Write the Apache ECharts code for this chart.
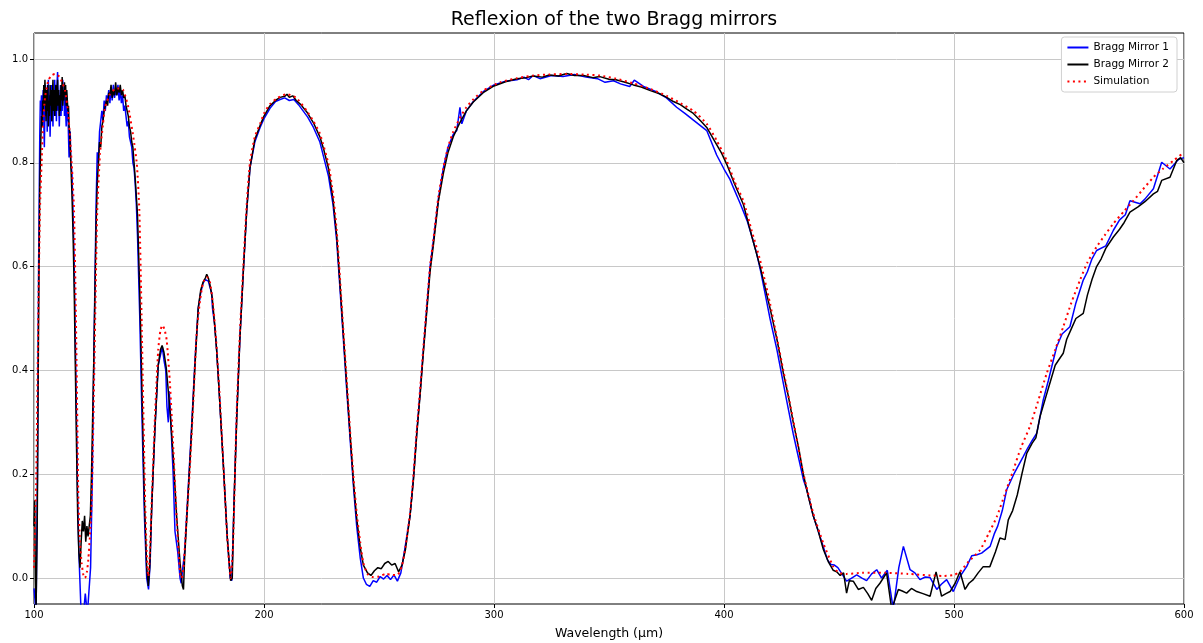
<!DOCTYPE html>
<html>
<head>
<meta charset="utf-8">
<script src="https://cdn.jsdelivr.net/npm/echarts@6/dist/echarts.min.js"></script>
<style>
html,body{margin:0;padding:0;background:#fff;}
#chart{width:1203px;height:643px;}
</style>
</head>
<body>
<div id="chart"></div>
<script>
// ---- data ----
const chartTitle = 'Reflexion of the two Bragg mirrors';
const xAxisName = 'Wavelength (µm)';
const seriesNames = ['Bragg Mirror 1', 'Bragg Mirror 2', 'Simulation'];
const yTickValues = [0.0, 0.2, 0.4, 0.6, 0.8, 1.0];

const mirror1 = [[100,-0.02],[100.4,-0.04],[100.9,-0.07],[101.5,0.2],[102,0.6],
[102.5,0.85],[102.75,0.92],[103,0.9],[103.25,0.93],[103.5,0.87],[103.75,0.91],[104,0.94],[104.25,0.88],[104.5,0.83],[104.75,0.9],[105,0.95],[105.25,0.89],[105.5,0.93],[105.75,0.86],[106,0.92],[106.25,0.96],[106.5,0.89],[106.75,0.93],[107,0.85],[107.25,0.91],[107.5,0.95],[107.75,0.88],[108,0.92],[108.25,0.87],[108.5,0.94],[108.75,0.9],[109,0.96],[109.25,0.89],[109.5,0.93],[109.75,0.88],[110,0.95],[110.25,0.975],[110.5,0.9],[110.75,0.93],[111,0.87],[111.25,0.92],[111.5,0.95],[111.75,0.89],[112,0.93],[112.25,0.9],[112.5,0.96],[112.75,0.92],[113,0.94],[113.25,0.89],[113.5,0.93],[113.75,0.9],[114,0.87],[114.25,0.92],[114.5,0.88],[114.75,0.9],[115,0.85],[115.25,0.81],[115.5,0.84],[115.75,0.86],[116,0.8],
[116.5,0.78],[117,0.7],[117.5,0.6],[118,0.45],[118.5,0.3],[119,0.15],[119.5,0.05],[120,-0.01],[120.5,-0.07],[121.5,-0.07],[122.3,-0.03],[123.2,-0.07],[124,-0.07],[124.6,0.02],[125.3,0.18],[126,0.42],[127,0.72],[127.5,0.82],[128,0.8],[128.5,0.86],[129,0.88],[129.5,0.9],[130,0.88],[130.5,0.92],[131,0.9],[131.5,0.93],[132,0.92],[132.5,0.94],[133,0.915],[133.5,0.945],[134,0.92],[134.5,0.95],[135,0.925],[135.5,0.94],[136,0.93],[136.5,0.95],[137,0.92],[137.5,0.94],[138,0.915],[138.5,0.93],[139,0.9],[139.5,0.91],[140,0.89],[140.5,0.87],[141,0.88],[141.5,0.85],[142,0.84],[142.5,0.83],[143,0.8],[143.5,0.79],[144,0.76],[144.5,0.72],[145,0.66],[146,0.5],[147,0.3],[148,0.12],[149,0.0],[149.8,-0.022],[150.5,0.03],[151.2,0.14],[152.6,0.29],[154,0.41],[155,0.43],[155.8,0.445],[156.5,0.42],[157.3,0.4],[157.8,0.33],[158.4,0.3],[158.8,0.36],[159.5,0.3],[160.5,0.2],[161.3,0.09],[162.5,0.05],[163.5,0.0],[164,-0.01],[164.7,0.02],[165.5,0.05],[167,0.17],[168.5,0.29],[170,0.42],[171.4,0.52],[172.5,0.55],[173.5,0.568],[174.5,0.575],[175.1,0.578],[175.8,0.572],[176.5,0.56],[177.2,0.55],[177.6,0.52],[178.5,0.49],[179.4,0.44],[180.5,0.36],[182.3,0.22],[184,0.08],[185.3,0.0],[186,-0.005],[187,0.15],[188.1,0.31],[189.5,0.46],[191,0.59],[192.5,0.71],[193.9,0.79],[196,0.84],[198.3,0.868],[200,0.885],[202.6,0.905],[205,0.918],[207,0.922],[209,0.925],[211,0.92],[213,0.922],[215,0.912],[217,0.9],[219,0.888],[221.5,0.868],[224.3,0.84],[226,0.81],[228,0.775],[230,0.72],[231.6,0.65],[233,0.56],[234.5,0.46],[236,0.36],[237.4,0.27],[239,0.17],[240.3,0.1],[241.8,0.04],[243.2,0.0],[244.5,-0.012],[246,-0.016],[247.5,-0.005],[249,-0.008],[250.5,0.003],[252,-0.002],[253.5,0.005],[255,-0.003],[256.5,0.006],[258,-0.006],[259.5,0.01],[261,0.05],[263.5,0.12],[265,0.195],[266.4,0.28],[268,0.365],[269.3,0.44],[272.2,0.6],[273.6,0.648],[275.8,0.73],[278,0.79],[280,0.83],[282.3,0.855],[283.8,0.862],[285.2,0.907],[286,0.875],[288,0.9],[291,0.918],[295.3,0.937],[300,0.95],[305,0.957],[310,0.96],[313,0.965],[315,0.96],[317,0.968],[320,0.962],[325,0.968],[330,0.966],[335,0.97],[340,0.965],[345,0.962],[348.3,0.955],[352,0.958],[355,0.952],[359,0.947],[361,0.959],[365,0.947],[370,0.938],[375,0.925],[379.4,0.907],[383,0.895],[386.7,0.882],[392.5,0.862],[396.8,0.815],[400,0.788],[402.6,0.768],[404,0.753],[407,0.722],[410,0.689],[412,0.66],[414.2,0.625],[416,0.59],[418,0.545],[420,0.5],[423,0.44],[425.8,0.375],[428,0.325],[430.1,0.278],[432,0.24],[434.5,0.19],[436,0.17],[438.8,0.12],[441,0.09],[443.2,0.06],[445,0.035],[446.5,0.026],[448,0.025],[449.5,0.02],[451,0.01],[453.3,-0.006],[455.5,0.0],[457.7,0.006],[460,0.0],[462,-0.005],[464.2,0.008],[466.4,0.016],[468.5,0.0],[471,0.015],[473.6,-0.06],[476,0.02],[478,0.061],[480.9,0.016],[483,0.01],[485.2,-0.003],[487.5,0.002],[489.6,0.001],[492.5,-0.022],[494.5,-0.012],[496.8,-0.003],[499.7,-0.026],[502.6,0.003],[505.5,0.022],[507.7,0.043],[510,0.045],[512,0.048],[515.7,0.061],[517.5,0.085],[519,0.1],[521,0.13],[522.9,0.17],[526,0.2],[530.1,0.234],[532,0.25],[534,0.265],[536,0.279],[538.8,0.343],[541,0.38],[544.6,0.445],[547,0.47],[550.4,0.484],[553,0.53],[556.2,0.574],[558,0.59],[560,0.615],[562,0.631],[566,0.64],[569.3,0.67],[572,0.69],[574.5,0.7],[576.5,0.727],[580.9,0.721],[583,0.73],[586.7,0.75],[590.3,0.801],[593.9,0.788],[597.5,0.806],[600,0.81]];

const mirror2 = [[100,0.1],[100.3,0.15],[100.6,0.0],[100.9,-0.06],[101.4,0.1],[102,0.5],[102.5,0.75],
[103,0.85],[103.25,0.89],[103.5,0.87],[103.75,0.92],[104,0.9],[104.25,0.95],[104.5,0.91],[104.75,0.96],[105,0.93],[105.25,0.88],[105.5,0.94],[105.75,0.9],[106,0.95],[106.25,0.87],[106.5,0.92],[106.75,0.89],[107,0.95],[107.25,0.91],[107.5,0.94],[107.75,0.88],[108,0.93],[108.25,0.96],[108.5,0.9],[108.75,0.94],[109,0.89],[109.25,0.93],[109.5,0.95],[109.75,0.9],[110,0.92],[110.25,0.96],[110.5,0.91],[110.75,0.94],[111,0.89],[111.25,0.93],[111.5,0.9],[111.75,0.95],[112,0.92],[112.25,0.965],[112.5,0.91],[112.75,0.94],[113,0.92],[113.25,0.955],[113.5,0.93],[113.75,0.95],[114,0.91],[114.25,0.94],[114.5,0.92],[114.75,0.9],[115,0.91],[115.25,0.87],[115.5,0.86],
[116,0.8],[116.5,0.74],[117,0.66],[117.5,0.55],[118,0.4],[118.5,0.25],[119,0.12],[119.5,0.05],[120,0.02],[120.5,0.07],[121,0.11],[121.5,0.09],[122,0.12],[122.5,0.07],[123,0.1],[123.5,0.08],[124,0.1],[124.5,0.12],[125,0.2],[126,0.42],[127,0.68],[127.5,0.76],[128,0.8],[128.5,0.84],[129,0.83],[129.5,0.87],[130,0.88],[130.5,0.9],[131,0.91],[131.5,0.92],[132,0.91],[132.5,0.935],[133,0.93],[133.5,0.95],[134,0.925],[134.5,0.94],[135,0.93],[135.5,0.955],[136,0.93],[136.5,0.945],[137,0.935],[137.5,0.95],[138,0.93],[138.5,0.94],[139,0.925],[139.5,0.93],[140,0.91],[140.5,0.9],[141,0.89],[141.5,0.87],[142,0.86],[142.5,0.84],[143,0.83],[143.5,0.8],[144,0.77],[145,0.7],[146,0.55],[147,0.35],[148,0.15],[149,0.02],[149.7,-0.015],[150.3,0.02],[151.2,0.14],[152.6,0.29],[154,0.41],[155,0.44],[155.7,0.448],[156.5,0.435],[157.5,0.405],[159,0.33],[160.6,0.23],[162,0.12],[163.5,0.03],[164.5,-0.015],[165,-0.022],[165.5,0.04],[167,0.16],[168.5,0.28],[170,0.41],[171.4,0.52],[172.5,0.555],[173.5,0.57],[174.5,0.578],[175.1,0.585],[175.8,0.578],[176.5,0.565],[177.5,0.54],[178.5,0.49],[179.4,0.44],[180.5,0.36],[182.3,0.22],[184,0.08],[185.5,-0.005],[186.2,0.0],[187,0.15],[188.1,0.3],[189.5,0.46],[191,0.59],[192.5,0.71],[193.9,0.79],[196,0.845],[198.3,0.872],[200,0.89],[202.6,0.91],[205,0.92],[207,0.926],[209,0.928],[210,0.932],[211,0.926],[212.5,0.929],[214,0.92],[216,0.912],[218.6,0.898],[221.5,0.877],[224.3,0.85],[226,0.825],[228,0.79],[230,0.73],[231.6,0.66],[233,0.57],[234.5,0.47],[236,0.37],[237.4,0.28],[239,0.18],[240.3,0.115],[241.8,0.06],[243.2,0.025],[245,0.01],[246.5,0.005],[248,0.014],[249.5,0.02],[251,0.018],[252.5,0.028],[254,0.032],[255.5,0.025],[257,0.028],[258.5,0.012],[260,0.025],[261.5,0.055],[263.5,0.12],[265,0.19],[266.4,0.275],[268,0.36],[269.3,0.435],[272.2,0.59],[273.6,0.64],[275.8,0.725],[278,0.78],[280,0.82],[282.3,0.85],[283.5,0.862],[285,0.876],[288,0.9],[291,0.917],[295.3,0.935],[300,0.948],[305,0.956],[310,0.962],[314,0.964],[317,0.967],[321,0.965],[324,0.969],[328,0.967],[331.6,0.972],[335,0.968],[339,0.968],[343,0.964],[346,0.966],[350,0.961],[353,0.96],[357,0.955],[360.6,0.95],[364,0.946],[368,0.939],[372,0.933],[375.1,0.926],[378,0.918],[381,0.912],[384,0.903],[386.7,0.895],[390,0.88],[392.5,0.868],[396.8,0.835],[399,0.818],[401.2,0.797],[404.5,0.76],[408.4,0.72],[412,0.66],[415.7,0.6],[420,0.52],[423,0.46],[425.8,0.395],[428,0.35],[430.1,0.3],[432.5,0.25],[434.5,0.2],[436.5,0.16],[438.8,0.12],[441,0.09],[443.2,0.055],[445.5,0.03],[447.5,0.015],[449,0.012],[450.5,0.005],[452,0.01],[453.3,-0.029],[454.5,-0.005],[456.2,-0.006],[458.4,-0.022],[460.6,-0.018],[462.5,-0.03],[464.2,-0.043],[466,-0.02],[467.8,-0.01],[470.7,0.01],[472.9,-0.06],[475.8,-0.022],[477.5,-0.025],[479.4,-0.029],[481.5,-0.02],[483.8,-0.026],[486.5,-0.03],[489.6,-0.035],[492.2,0.012],[494.6,-0.035],[496.5,-0.03],[498.3,-0.026],[500.5,-0.01],[502.6,0.012],[504.8,-0.022],[506.5,-0.01],[508.4,-0.003],[510.5,0.01],[512.7,0.022],[515.6,0.022],[518,0.05],[520,0.077],[522.2,0.074],[523.6,0.112],[525.5,0.13],[527.5,0.16],[529.5,0.2],[531.6,0.24],[534,0.26],[535.6,0.27],[537.4,0.311],[540,0.35],[542,0.38],[544,0.41],[545.5,0.42],[547.5,0.433],[549,0.46],[551,0.48],[553,0.5],[556.2,0.51],[558,0.545],[560,0.575],[562,0.6],[564,0.615],[566,0.635],[569.3,0.657],[572,0.672],[574,0.685],[576.5,0.705],[580,0.715],[583,0.725],[586.7,0.74],[588.5,0.745],[590.3,0.766],[593.9,0.772],[596.8,0.804],[598.5,0.81],[600,0.8]];

const simX = [100,101,102,102.6,103.3,104,104.8,106.2,107.5,109.1,111,112.5,113.5,114.9,116.4,117.4,118.4,119.3,120,120.7,121.5,122.2,123,123.6,124.3,125.1,126,127,127.5,128.7,130,130.9,133,135.2,137,138.8,141,143.2,144.7,145.8,147,148.3,149,149.7,150.4,151.2,152.6,154,155,155.9,156.8,157.7,159.1,160.6,162,163.5,164.2,165,166,167.8,169.3,170.7,172.2,173.5,175.1,176.5,178,179.4,181,182.3,184,185.5,186.5,188.1,189.5,191,192.5,193.9,196,198.3,200,202.6,206,209.9,214,218.6,221.5,224.3,228,230,231.6,233,234.5,236,237.4,239,240.3,241.8,243.2,245,247,250,253,256,258,259.9,261.5,263.5,265,266.4,268,269.3,272.2,273.6,275.8,278,280,282.3,285,288,291,295.3,302.6,310,317.1,324,331.6,339,346,353,360.6,368,375.1,381,386.7,392.5,396.8,401.2,404.5,408.4,412,415.7,420,425.8,430.1,434.5,438.8,443.2,447.5,450,453.3,460,470,480,490,495,500,502.6,506,511.3,515,518.6,522,525.8,529,533,536.5,540.3,544,547.5,551,554.8,558,562,565.5,569.3,574,578,582,586.7,591,595.4,600];
const simY = [0.02,0.2,0.55,0.71,0.80,0.88,0.926,0.958,0.968,0.971,0.966,0.952,0.939,0.894,0.798,0.708,0.45,0.15,0.07,0.029,0.005,0.0,0.012,0.035,0.08,0.15,0.35,0.6,0.708,0.817,0.875,0.907,0.932,0.942,0.943,0.94,0.907,0.849,0.798,0.708,0.45,0.15,0.05,0.003,0.05,0.15,0.311,0.439,0.478,0.487,0.478,0.458,0.375,0.247,0.118,0.01,0.0,0.02,0.09,0.215,0.343,0.471,0.535,0.568,0.58,0.57,0.52,0.445,0.33,0.221,0.08,0.0,0.06,0.317,0.47,0.6,0.72,0.80,0.85,0.875,0.895,0.913,0.925,0.932,0.925,0.90,0.88,0.856,0.798,0.74,0.67,0.58,0.477,0.38,0.285,0.19,0.125,0.07,0.029,0.008,0.002,0.003,0.008,0.006,0.006,0.022,0.06,0.125,0.2,0.285,0.37,0.445,0.6,0.65,0.734,0.79,0.83,0.86,0.885,0.907,0.922,0.939,0.955,0.963,0.968,0.970,0.971,0.970,0.968,0.962,0.953,0.942,0.929,0.915,0.90,0.875,0.843,0.804,0.765,0.727,0.67,0.612,0.529,0.40,0.304,0.202,0.125,0.067,0.022,0.01,0.008,0.01,0.01,0.008,0.005,0.004,0.006,0.012,0.03,0.054,0.085,0.118,0.16,0.208,0.25,0.292,0.34,0.394,0.44,0.484,0.53,0.574,0.608,0.638,0.66,0.683,0.707,0.727,0.748,0.772,0.789,0.804,0.82];

// ---- chart ----
const simulation = simX.map((x, i) => [x, simY[i]]);
const FONT = 'DejaVu Sans';
const GRID_COLOR = '#c8c8c8';
const chart = echarts.init(document.getElementById('chart'), null, {renderer: 'canvas'});
chart.setOption({
  animation: false,
  backgroundColor: '#ffffff',
  textStyle: {fontFamily: FONT},
  title: {
    text: chartTitle,
    left: 609, top: 6, textAlign: 'center',
    textStyle: {fontFamily: FONT, fontSize: 19, fontWeight: 'normal', color: '#000'}
  },
  legend: {
    orient: 'vertical',
    right: 26, top: 37, z: 10,
    itemWidth: 21, itemHeight: 10, itemGap: 6,
    padding: [5, 8, 5, 5],
    backgroundColor: '#fff',
    borderColor: '#d0d0d0', borderWidth: 1, borderRadius: 3,
    itemStyle: {opacity: 0},
    textStyle: {fontFamily: FONT, fontSize: 10.5, color: '#000'},
    data: seriesNames
  },
  grid: {
    left: 34, right: 19, top: 33, bottom: 39,
    outerBoundsMode: 'none', containLabel: false,
    show: true, borderColor: '#000', borderWidth: 1, backgroundColor: 'transparent'
  },
  xAxis: {
    type: 'value', min: 100, max: 600, interval: 100,
    name: xAxisName, nameLocation: 'middle', nameGap: 23,
    nameTextStyle: {fontFamily: FONT, fontSize: 12.5, color: '#000'},
    axisLine: {show: false, onZero: false},
    axisTick: {show: true, length: 4, lineStyle: {color: '#000'}},
    axisLabel: {fontFamily: FONT, fontSize: 10, color: '#000', margin: 6},
    splitLine: {show: true, lineStyle: {color: GRID_COLOR, width: 1}}
  },
  yAxis: {
    type: 'value', min: -0.05, max: 1.05, interval: 0.05,
    axisLine: {show: false, onZero: false},
    axisTick: {show: true, length: 4, customValues: yTickValues, lineStyle: {color: '#000'}},
    axisLabel: {
      fontFamily: FONT, fontSize: 10, color: '#000', margin: 6,
      customValues: yTickValues,
      formatter: v => v.toFixed(1)
    },
    splitLine: {show: false}
  },
  series: [
    {name: '_grid', type: 'line', data: [], z: 0, silent: true,
     markLine: {silent: true, z: 1, symbol: 'none', label: {show: false}, animation: false,
       lineStyle: {color: GRID_COLOR, width: 1, type: 'solid'},
       data: yTickValues.map(v => ({yAxis: v}))}},
    {name: seriesNames[0], type: 'line', data: mirror1, showSymbol: false, symbol: 'none',
     lineStyle: {color: '#0000ff', width: 1.5}, itemStyle: {color: '#0000ff'}, clip: true},
    {name: seriesNames[1], type: 'line', data: mirror2, showSymbol: false, symbol: 'none',
     lineStyle: {color: '#000000', width: 1.5}, itemStyle: {color: '#000000'}, clip: true},
    {name: seriesNames[2], type: 'line', data: simulation, showSymbol: false, symbol: 'none', smooth: 0.2,
     lineStyle: {color: '#ff0000', width: 2, type: [2, 3.5]}, itemStyle: {color: '#ff0000'}, clip: true}
  ]
});
</script>
</body>
</html>
